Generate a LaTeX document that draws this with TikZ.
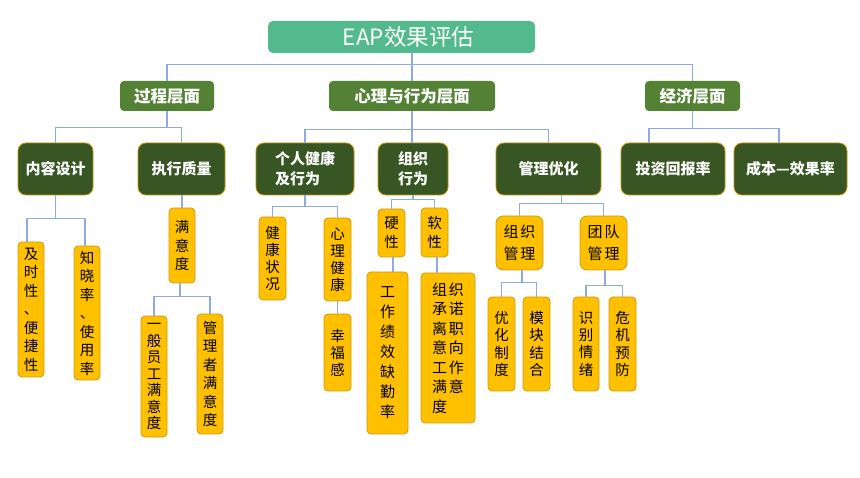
\documentclass[tikz,border=0pt]{standalone}
\usepackage{fontspec}
\setmainfont{Noto Sans CJK SC}
\definecolor{rootc}{RGB}{82,186,140}
\definecolor{lvtwo}{RGB}{84,130,53}
\definecolor{lvthree}{RGB}{55,86,35}
\definecolor{goldb}{RGB}{191,144,0}
\definecolor{yel}{RGB}{255,192,0}
\definecolor{yelb}{RGB}{205,155,10}
\definecolor{linkc}{RGB}{143,170,220}
\tikzset{
  sz/.style 2 args={minimum width=#1pt, minimum height=#2pt},
  rootbox/.style={fill=rootc, rounded corners=5pt, text=white, inner sep=0pt,
    font=\fontsize{22.5}{26}\selectfont},
  lvtwobox/.style={fill=lvtwo, rounded corners=4pt, text=white, inner sep=0pt,
    font=\bfseries\fontsize{16.5}{20}\selectfont},
  lvthreebox/.style={fill=lvthree, draw=goldb, line width=0.8pt, rounded corners=8pt,
    text=white, inner sep=0pt, align=left, font=\bfseries\fontsize{15}{20}\selectfont},
  leaf/.style={fill=yel, draw=yelb, line width=0.8pt, rounded corners=4pt, text=black,
    inner sep=0pt, align=center, font=\fontsize{14.5}{18.5}\selectfont},
  conn/.style={draw=linkc, line width=1.1pt},
}
\begin{document}
\begin{tikzpicture}[x=1pt, y=-1pt]
\useasboundingbox (0,0) rectangle (860,478);
% root and level 2
\node[rootbox, sz={267}{32}] (root) at (401.5,37) {\hspace{14pt}EAP效果评估};
\node[lvtwobox, sz={94}{30}] (proc) at (167,96) {过程层面};
\node[lvtwobox, sz={166}{30}] (psy) at (412,96) {心理与行为层面};
\node[lvtwobox, sz={95}{30}] (econ) at (692.5,96) {经济层面};
% level 3
\node[lvthreebox, sz={75}{52}] (nrsj) at (55.5,169) {内容设计};
\node[lvthreebox, sz={87}{52}] (zxzl) at (181.5,169) {执行质量};
\node[lvthreebox, sz={98}{52}] (grjk) at (305,169) {个人健康\\及行为};
\node[lvthreebox, sz={70}{52}] (zzxw) at (413,169) {组织\\行为};
\node[lvthreebox, sz={105}{52}] (glyh) at (548.5,169) {管理优化};
\node[lvthreebox, sz={104}{52}] (tzhb) at (673,169) {投资回报率};
\node[lvthreebox, sz={113}{52}] (cbxg) at (790.5,169) {成本—效果率};
% level 4 and leaves
\node[leaf, sz={26}{135}] (jsx) at (31,309.5) {及\\时\\性\\、\\便\\捷\\性};
\node[leaf, sz={26}{134}] (zxl) at (87,313) {知\\晓\\率\\、\\使\\用\\率};
\node[leaf, sz={26}{75}] (myd) at (182,245.5) {满\\意\\度};
\node[leaf, sz={26}{121}, font=\fontsize{14.5}{16.5}\selectfont] (ybyg) at (154,376.5) {一\\般\\员\\工\\满\\意\\度};
\node[leaf, sz={26}{120}] (glz) at (210,374) {管\\理\\者\\满\\意\\度};
\node[leaf, sz={27}{83}, font=\fontsize{14.5}{17}\selectfont] (jkzk) at (272.5,258.5) {健\\康\\状\\况};
\node[leaf, sz={27}{83}, font=\fontsize{14.5}{17}\selectfont] (xljk) at (337.5,259.5) {心\\理\\健\\康};
\node[leaf, sz={27}{77}, font=\fontsize{14.5}{17}\selectfont] (xfg) at (337.5,352.5) {幸\\福\\感};
\node[leaf, sz={27}{48}] (yx) at (391.5,233) {硬\\性};
\node[leaf, sz={27}{49}] (rx) at (434.5,232.5) {软\\性};
\node[leaf, sz={41}{162}, font=\fontsize{15}{20}\selectfont] (gzjx) at (387.5,353) {工\\作\\绩\\效\\缺\\勤\\率};
\node[leaf, sz={54}{150}, align=left, font=\fontsize{15}{19.5}\selectfont] (zzcn) at (448,348)
  {组\hspace{2pt}织\\承\hspace{2pt}诺\\离\hspace{2pt}职\\意\hspace{2pt}向\\工\hspace{2pt}作\\满\hspace{2pt}意\\度};
\node[leaf, sz={47}{54}, rounded corners=7pt, font=\fontsize{15}{22}\selectfont] (zzgl) at (519.5,243) {组\hspace{2pt}织\\管\hspace{2pt}理};
\node[leaf, sz={47}{54}, rounded corners=7pt, font=\fontsize{15}{22}\selectfont] (tdgl) at (603.5,243) {团\hspace{2pt}队\\管\hspace{2pt}理};
\node[leaf, sz={27}{94}, font=\fontsize{14.5}{17.2}\selectfont] (yhzd) at (501.5,344) {优\\化\\制\\度};
\node[leaf, sz={27}{94}, font=\fontsize{14.5}{17.2}\selectfont] (mkjh) at (536.5,344) {模\\块\\结\\合};
\node[leaf, sz={26}{94}, font=\fontsize{14.5}{17.2}\selectfont] (sbqx) at (586,344) {识\\别\\情\\绪};
\node[leaf, sz={27}{94}, font=\fontsize{14.5}{17.2}\selectfont] (wjyf) at (622.5,344) {危\\机\\预\\防};
% connectors level 1-2
\draw[conn] (psy.north) -- (root.south -| psy.north);
\draw[conn] (proc.north) -- ++(0,-16) -| (econ.north);
% level 2-3
\draw[conn] (proc.south) -- ++(0,16) -| (nrsj.north);
\draw[conn] (proc.south) -- ++(0,16) -| (zxzl.north);
\draw[conn] (psy.south) -- ++(0,18) -| (grjk.north);
\draw[conn] (psy.south) -- ++(0,18) -| (glyh.north);
\draw[conn] (psy.south) -- (psy.south |- zzxw.north);
\draw[conn] (econ.south) -- ++(0,17) -| ([xshift=-24pt]tzhb.north);
\draw[conn] (econ.south) -- ++(0,17) -| ([xshift=-11.5pt]cbxg.north);
% level 3-4
\draw[conn] (nrsj.south) -- ++(0,23) -| ([xshift=-4pt]jsx.north);
\draw[conn] (nrsj.south) -- ++(0,23) -| ([xshift=-2pt]zxl.north);
\draw[conn] (myd.north) -- (myd.north |- zxzl.south);
\draw[conn] ([xshift=-2pt]myd.south) -- ++(0,13) -| (ybyg.north);
\draw[conn] ([xshift=-2pt]myd.south) -- ++(0,13) -| (glz.north);
\draw[conn] (grjk.south) -- ++(0,11) -| (jkzk.north);
\draw[conn] (grjk.south) -- ++(0,11) -| (xljk.north);
\draw[conn] (xljk.south) -- (xfg.north);
\draw[conn] (zzxw.south) -- ++(0,4) -| (yx.north);
\draw[conn] (zzxw.south) -- ++(0,4) -| (rx.north);
\draw[conn] ([xshift=1.5pt]yx.south) -- ([xshift=1.5pt]yx.south |- gzjx.north);
\draw[conn] ([xshift=2.5pt]rx.south) -- ([xshift=2.5pt]rx.south |- zzcn.north);
\draw[conn] ([xshift=13pt]glyh.south) -- ++(0,8) -| (zzgl.north);
\draw[conn] ([xshift=13pt]glyh.south) -- ++(0,8) -| (tdgl.north);
\draw[conn] ([xshift=2.5pt]zzgl.south) -- ++(0,12) -| (yhzd.north);
\draw[conn] ([xshift=2.5pt]zzgl.south) -- ++(0,12) -| (mkjh.north);
\draw[conn] ([xshift=1.5pt]tdgl.south) -- ++(0,15) -| (sbqx.north);
\draw[conn] ([xshift=1.5pt]tdgl.south) -- ++(0,15) -| (wjyf.north);
\end{tikzpicture}
\end{document}
